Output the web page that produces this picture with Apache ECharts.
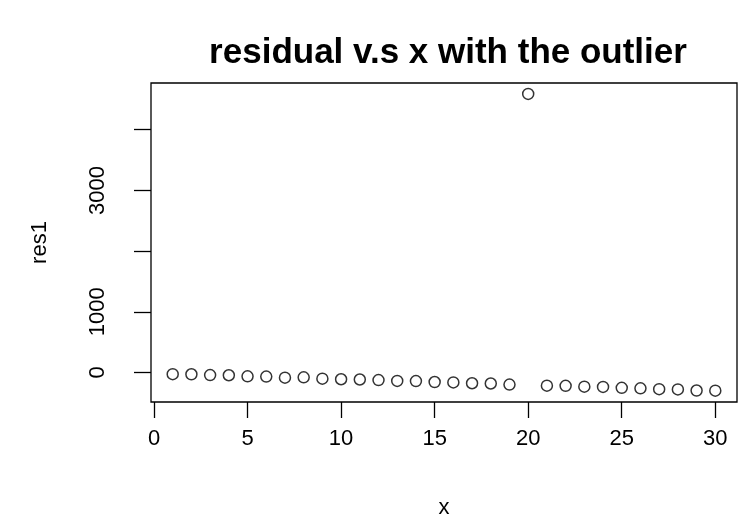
<!DOCTYPE html>
<html>
<head>
<meta charset="utf-8">
<script src="https://cdn.jsdelivr.net/npm/echarts@6/dist/echarts.min.js"></script>
<style>
  html, body { margin: 0; padding: 0; background: #fff; }
  #chart { width: 738px; height: 524px; }
</style>
</head>
<body>
<div id="chart"></div>
<script>
// Observation index and the residuals from the fit (observation 20 is the outlier)
const xs = [1, 2, 3, 4, 5, 6, 7, 8, 9, 10, 11, 12, 13, 14, 15,
            16, 17, 18, 19, 20, 21, 22, 23, 24, 25, 26, 27, 28, 29, 30];
const res1 = [-28, -30, -44, -46, -64, -68, -86, -80, -102, -112, -116, -126, -140, -142, -158,
              -164, -178, -182, -200, 4590, -218, -220, -234, -238, -254, -262, -276, -280, -298, -300];

// Axis ticks and the labels that are printed
const xTicks = [0, 5, 10, 15, 20, 25, 30];
const yTicks = [0, 1000, 2000, 3000, 4000];
const yLabels = [0, 1000, 3000];

const chart = echarts.init(document.getElementById('chart'), null, { renderer: 'canvas' });
const font = 'Liberation Sans, Arial, Helvetica, sans-serif';

chart.setOption({
  animation: false,
  backgroundColor: '#ffffff',
  title: {
    text: 'residual v.s x with the outlier',
    left: 443,
    top: 31,
    textAlign: 'center',
    textStyle: { fontFamily: font, fontWeight: 'bold', fontSize: 35, color: '#000' }
  },
  grid: {
    left: 151, right: 1, top: 83, bottom: 120,
    show: true, borderColor: '#000', borderWidth: 1.3, backgroundColor: 'transparent'
  },
  xAxis: {
    type: 'value',
    min: -0.16, max: 31.16,
    name: 'x',
    nameLocation: 'middle',
    nameGap: 95,
    nameTextStyle: { fontFamily: font, fontSize: 22, color: '#000', verticalAlign: 'top' },
    splitLine: { show: false },
    axisLine: { show: false, onZero: false },
    axisTick: { show: true, length: 16, customValues: xTicks, lineStyle: { color: '#000', width: 1.3 } },
    axisLabel: { customValues: xTicks, margin: 26, fontFamily: font, fontSize: 22, color: '#000' }
  },
  yAxis: {
    type: 'value',
    min: -487, max: 4770,
    name: 'res1',
    nameLocation: 'middle',
    nameGap: 100,
    nameTextStyle: { fontFamily: font, fontSize: 22, color: '#000' },
    splitLine: { show: false },
    axisLine: { show: false, onZero: false },
    axisTick: { show: true, length: 17, customValues: yTicks, lineStyle: { color: '#000', width: 1.3 } },
    axisLabel: {
      customValues: yLabels, rotate: 90, margin: 42,
      formatter: (v) => String(v),
      fontFamily: font, fontSize: 22, color: '#000'
    }
  },
  series: [{
    type: 'scatter',
    data: xs.map((x, i) => [x, res1[i]]),
    symbol: 'circle',
    symbolSize: 11,
    itemStyle: { color: 'rgba(0,0,0,0)', borderColor: '#000', borderWidth: 1.5 },
    emphasis: { disabled: true }
  }]
});
</script>
</body>
</html>
